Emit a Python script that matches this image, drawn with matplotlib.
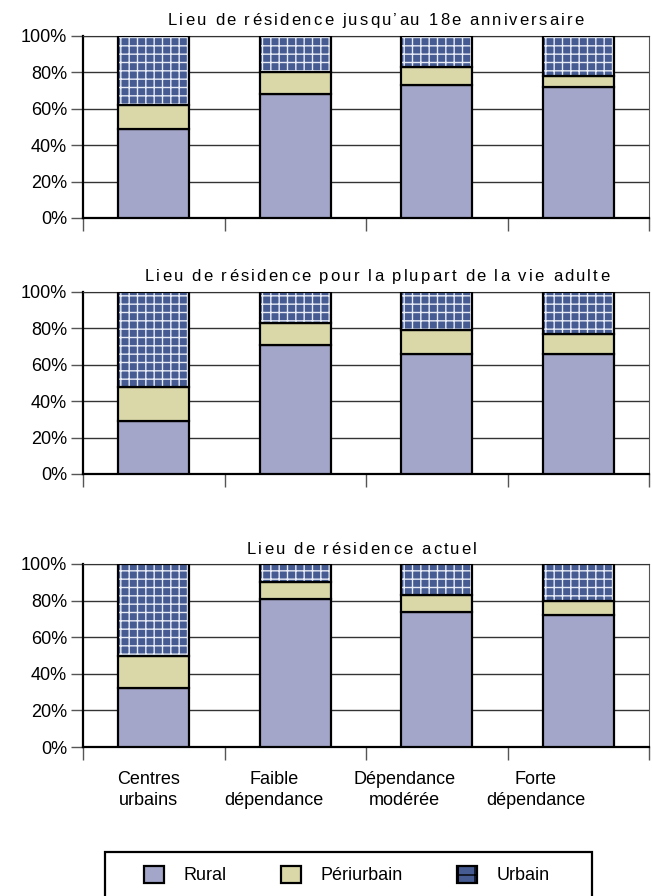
import numpy as np
import matplotlib
matplotlib.use('Agg')
import matplotlib.pyplot as plt
from matplotlib.patches import Patch, Rectangle
from matplotlib.font_manager import FontProperties

plt.rcParams['font.family'] = ['Liberation Sans', 'DejaVu Sans']
plt.rcParams['hatch.linewidth'] = 1.0

# Data (percent)
categories = ['Centres\nurbains', 'Faible\ndépendance', 'Dépendance\nmodérée', 'Forte\ndépendance']
titles = ["Lieu de résidence jusqu’au 18e anniversaire",
          "Lieu de résidence pour la plupart de la vie adulte",
          "Lieu de résidence actuel"]
rural = [[49, 68, 73, 72],
         [29, 71, 66, 66],
         [32, 81, 74, 72]]
periurbain = [[13, 12, 10, 6],
              [19, 12, 13, 11],
              [18, 9, 9, 8]]
urbain = [[38, 20, 17, 22],
          [52, 17, 21, 23],
          [50, 10, 17, 20]]

c_rural = '#A3A6C9'
c_peri = '#DAD8A8'
c_urb = '#455B91'
c_hatch = '#E8ECF6'

W, H = 652, 896
fig = plt.figure(figsize=(W / 100, H / 100), dpi=100)
renderer = fig.canvas.get_renderer()

# axes boxes in pixels: left, top, right, bottom
boxes = [(83, 36, 649, 218), (83, 292, 649, 474), (83, 564, 649, 747)]
# title placement in pixels: left start, baseline
title_pos = [(168, 25), (145, 281), (247, 554)]


def spaced_title(s, x0, y0, size=12, spacing=2.1):
    # letter-spaced text, drawn char by char
    prop = FontProperties(family='Liberation Sans', size=size)
    ref = renderer.get_text_width_height_descent('|', prop, ismath=False)[0]
    for k, ch in enumerate(s):
        wk = renderer.get_text_width_height_descent(s[:k] + '|', prop, ismath=False)[0] - ref if k else 0
        fig.text((x0 + wk + k * spacing) / W, 1 - y0 / H, ch, fontproperties=prop,
                 ha='left', va='baseline')


x = np.arange(len(categories))
w = 0.5
label_shift = [-0.04, -0.15, -0.23, -0.30]  # labels sit left of the bar centres
for i, (l, t, r_, b) in enumerate(boxes):
    ax = fig.add_axes([l / W, 1 - b / H, (r_ - l) / W, (b - t) / H])
    r = np.array(rural[i])
    p = np.array(periurbain[i])
    u = np.array(urbain[i])
    ax.bar(x, r, w, color=c_rural, edgecolor='black', linewidth=1.6, zorder=3)
    ax.bar(x, p, w, bottom=r, color=c_peri, edgecolor='black', linewidth=1.6, zorder=3)
    ax.bar(x, u, w, bottom=r + p, color=c_urb, edgecolor=c_hatch, hatch='++',
           linewidth=0, zorder=3)
    ax.bar(x, u, w, bottom=r + p, fill=False, edgecolor='black', linewidth=1.6, zorder=4)

    ax.set_xlim(-0.5, 3.5)
    ax.set_ylim(0, 100)
    ax.set_yticks(np.arange(0, 101, 20))
    ax.set_yticklabels([f'{v}%' for v in range(0, 101, 20)], fontsize=13)
    ax.yaxis.grid(True, color='#333333', linewidth=1, zorder=0)
    ax.tick_params(axis='y', length=8.5, width=1, color='#555555', pad=3)

    ax.set_xticks([-0.5, 0.5, 1.5, 2.5, 3.5])
    ax.set_xticklabels([])
    ax.tick_params(axis='x', which='major', length=9, width=1, color='#555555', direction='out')
    if i == 2:
        ax.set_xticks(x + np.array(label_shift), minor=True)
        ax.set_xticklabels(categories, minor=True, fontsize=13, linespacing=1.3)
    ax.tick_params(axis='x', which='minor', length=0, pad=17)

    for s in ['left', 'bottom']:
        ax.spines[s].set_color('black')
        ax.spines[s].set_linewidth(1.6)
    ax.spines['top'].set_color('#333333')
    ax.spines['right'].set_color('#555555')

    spaced_title(titles[i], *title_pos[i])

# legend box runs off the bottom edge
fig.patches.append(Rectangle((105 / W, 1 - 905 / H), 487 / W, 53 / H, transform=fig.transFigure,
                             fill=False, edgecolor='black', linewidth=1.6))
handles = [Patch(facecolor=c_rural, edgecolor='black', linewidth=1.6, label='Rural'),
           Patch(facecolor=c_peri, edgecolor='black', linewidth=1.6, label='Périurbain'),
           Patch(facecolor=c_urb, edgecolor='black', hatch='+', linewidth=1.6, label='Urbain')]
fig.legend(handles=handles, loc='center', ncol=3, fontsize=13,
           bbox_to_anchor=(347 / W, 1 - 875 / H), frameon=False,
           handlelength=1.1, handleheight=1.1, handletextpad=1.1, columnspacing=3.0)

fig.savefig('out.png', dpi=100)
